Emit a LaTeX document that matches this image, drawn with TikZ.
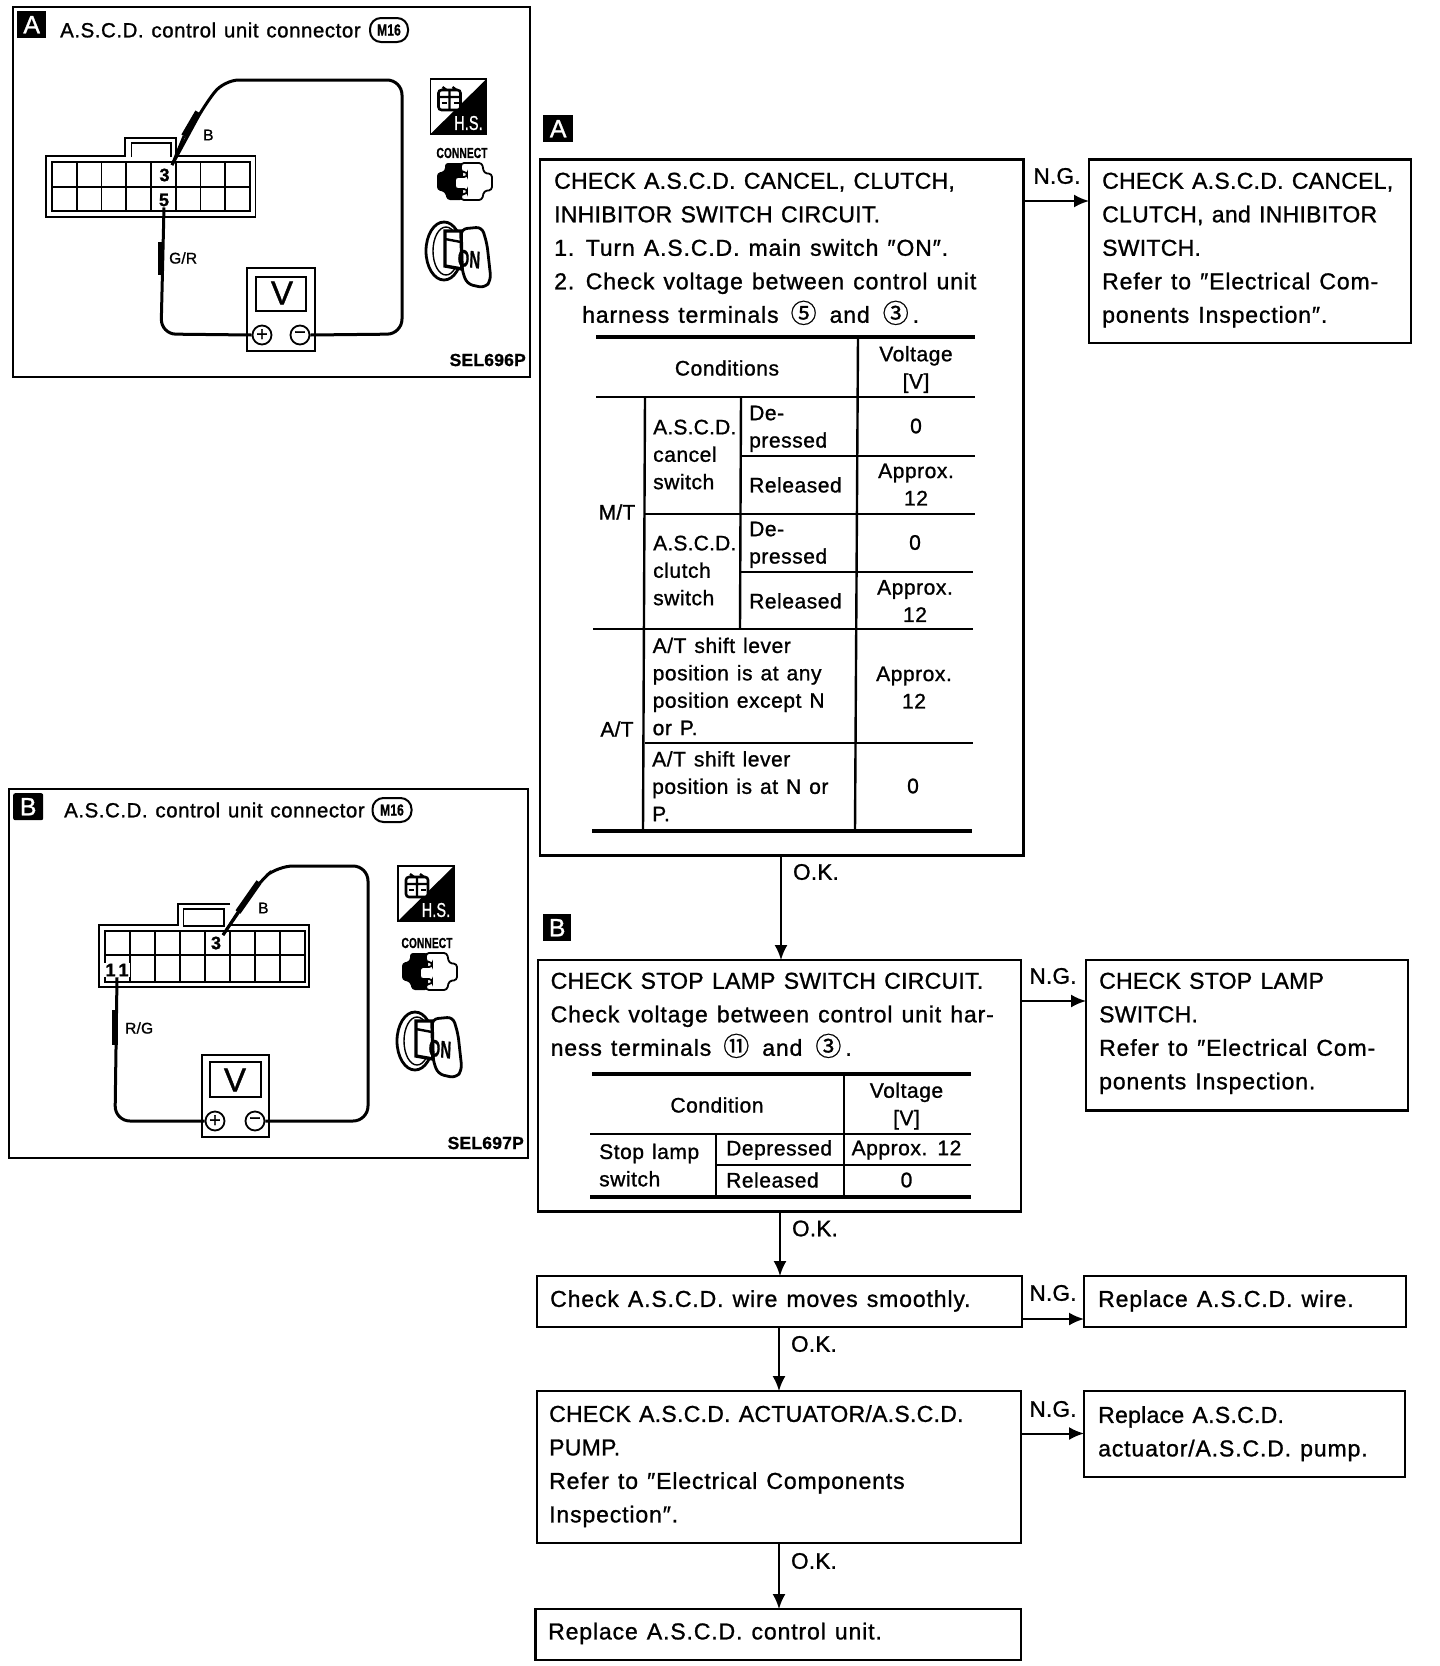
\documentclass[tikz,border=0pt]{standalone}
\usepackage{fontspec}
\setmainfont{Liberation Sans}[RawFeature={embolden=1.1},WordSpace=1.25,LetterSpace=1.2]
\newfontfamily\cjkf{Noto Sans CJK SC}[RawFeature={embolden=0.8}]
\usetikzlibrary{arrows.meta,calc}
\newcommand\fsBody{\fontsize{23}{33.5}\selectfont}
\newcommand\fsTab{\fontsize{21}{27.4}\selectfont\addfontfeature{LetterSpace=2.6}}
\newcommand\cn[1]{{\cjkf\fontsize{26}{26}\selectfont #1}}
\newcommand\lw[1]{{\addfontfeature{LetterSpace=3.8}#1}}
\newcommand\tgt[1]{{\addfontfeature{LetterSpace=1}#1}}
\tikzset{
  x=1pt,y=-1pt,
  box/.style={draw=black,line width=2.4pt,fill=white,rectangle,inner sep=0pt,outer sep=0pt,anchor=north west},
  panel/.style={box,line width=2pt},
  body/.style={inner sep=0pt,anchor=north west,align=left,font=\fsBody},
  ngok/.style={inner sep=0pt,font=\fontsize{22.5}{26}\selectfont},
  tl/.style={inner sep=0pt,anchor=north west,align=left,font=\fsTab},
  tc/.style={inner sep=0pt,align=center,font=\fsTab},
  arr/.style={line width=2pt,-{Latex[length=15pt,width=13pt]}},
  rthin/.style={line width=2.4pt},
  rthick/.style={line width=3.8pt},
  wire/.style={line width=3pt,rounded corners=15pt},
  probe/.style={line width=6pt},
  badge/.style={fill=black,text=white,inner sep=0pt,anchor=north west,font=\fontsize{25}{25}\selectfont},
  ttl/.style={inner sep=0pt,anchor=west,font=\fontsize{20.5}{24}\selectfont\addfontfeature{LetterSpace=2.6}},
  capsule/.style={draw,line width=2pt,rounded corners=11pt,inner sep=0pt},
  capt/.style={inner sep=0pt,xscale=.75,transform shape,font=\bfseries\fontsize{16}{16}\selectfont},
  wlab/.style={inner sep=0pt,anchor=west,font=\fontsize{15.5}{18}\selectfont},
  pinn/.style={inner sep=0pt,font=\bfseries\fontsize{18}{20}\selectfont},
  term/.style={draw,circle,line width=1.8pt,fill=white,minimum size=19pt,inner sep=0pt,font=\fontsize{20}{20}\selectfont},
  sel/.style={inner sep=0pt,anchor=east,font=\bfseries\fontsize{17.5}{20}\selectfont},
}
% icons: name prefix, x, y
\newcommand\hsicon[3]{\begin{scope}[shift={(#2,#3)}]
  \draw[line width=1.8pt] (0,0) rectangle (56,55);
  \fill (56,0) -- (56,55) -- (0,55) -- cycle;
  \draw[line width=2.6pt,fill=white,rounded corners=3pt] (8,11) rectangle (30,31);
  \draw[line width=2.4pt] (8,18) -- (30,18) (19,11) -- (19,31) (12,8) -- (16,11) (22,8) -- (26,11);
  \draw[line width=1.4pt] (11,24) -- (16,24) (23,24) -- (28,24);
  \node[inner sep=0pt,text=white,xscale=.72,transform shape,font=\fontsize{20}{20}\selectfont] (#1hs) at (38,44) {H.S.};
\end{scope}}
\newcommand\conicon[3]{\begin{scope}[shift={(#2,#3)}]
  \node[inner sep=0pt,xscale=.7,transform shape,font=\bfseries\fontsize{14.5}{15}\selectfont] (#1con) at (25,-10) {CONNECT};
  \fill[rounded corners=3pt] (8,0) -- (26,0) -- (26,37) -- (10,37) -- (8,29) -- (0,27) -- (0,10) -- (8,8) -- cycle;
  \draw[line width=1.8pt,fill=white,rounded corners=3pt] (24,0) -- (45,0) -- (47,10) -- (55,11) -- (55,27) -- (47,28) -- (45,37) -- (24,37) -- (24,31) -- (30,31) -- (30,26) -- (18,26) -- (18,14) -- (30,14) -- (30,9) -- (24,9) -- cycle;
\end{scope}}
\newcommand\keyicon[3]{\begin{scope}[shift={(#2,#3)}]
  \draw[line width=2.8pt] (19,29) ellipse [x radius=18,y radius=29];
  \draw[line width=1.4pt] (21,29) ellipse [x radius=13,y radius=24];
  \draw[line width=2.8pt,fill=white,rounded corners=6pt] (36,7) -- (57,5) -- (62,22) -- (66,58) -- (60,66) -- (42,62) -- (37,48) -- cycle;
  \draw[line width=3.4pt,fill=white] (20,9) -- (36,9) -- (37,47) -- (20,44) -- cycle;
  \draw[line width=2.4pt] (20,17) -- (36,20);
  \node[inner sep=0pt,xscale=.62,rotate=-4,transform shape,font=\bfseries\fontsize{24}{24}\selectfont] (#1on) at (44,37) {ON};
\end{scope}}
\begin{document}
\begin{tikzpicture}
\useasboundingbox (0,0) rectangle (1440,1666);
\fill[white] (0,0) rectangle (1440,1666);

%% ---------- Panel A
\node[panel,minimum width=517pt,minimum height=370pt] (panelA) at (13,7) {};
\node[badge,minimum width=29pt,minimum height=27pt] (badgeA) at (17,11) {A};
\node[ttl] (titleA) at (60,30) {A.S.C.D. control unit connector};
\node[capsule,minimum width=38pt,minimum height=24pt] (capA) at (389,30) {};
\node[capt] (capAt) at (capA) {M16};
% connector body
\draw[line width=1.8pt] (46,156) -- (125,156) -- (125,138) -- (176,138) -- (176,156) -- (255.5,156) -- (255.5,217) -- (46,217) -- cycle;
\draw[line width=1.8pt] (131.5,157) -- (131.5,143) -- (171,143) -- (171,157);
\draw[line width=2.2pt] (52,162) rectangle (250,211);
\draw[line width=2.2pt] (52,187) -- (250,187);
\foreach \c in {1,...,7}{\draw[line width=1.8pt] ({52+\c*24.75},162) -- ({52+\c*24.75},211);}
\node[pinn,fill=white,inner xsep=2pt,inner ysep=1pt] (pin3A) at (164.5,175) {3};
\node[pinn,fill=white,inner xsep=2pt,inner ysep=1pt] (pin5A) at (164,200) {5};
% meter
\node[box,line width=1.8pt,minimum width=68pt,minimum height=83pt] (meterA) at (247,268) {};
\node[box,line width=2pt,minimum width=50pt,minimum height=34pt] (screenA) at (256,277) {};
\node[inner sep=0pt,font=\fontsize{33}{33}\selectfont] (vA) at (282,293) {V};
\node[term] (plusA) at (262,335) {+};
\node[term] (minusA) at (300,335) {\textminus};
% wires
\coordinate (tipBA) at (172,165);
\draw[wire] (tipBA) -- (204,106) -- (224,80) -- (402,80) -- (402,334) -- (minusA.east);
\draw[probe] (184,136) -- (198,112);
\draw[line width=2.8pt] (tipBA) -- (184,136);
\draw[wire] (pin5A.south) -- (161,334) -- (plusA.west);
\draw[probe] (160.5,242) -- (160.5,275);
\node[wlab] (wireBA) at (203,135) {B};
\node[wlab] (wireGR) at (169,258) {G/R};
\node[sel] (selA) at (526,360) {SEL696P};
\hsicon{a}{430.5}{79}
\conicon{a}{437}{163}
\keyicon{a}{425}{222}

%% ---------- Panel B
\node[panel,minimum width=519pt,minimum height=369pt] (panelB) at (9,789) {};
\node[badge,minimum width=30pt,minimum height=27pt,rounded corners=2pt] (badgeB) at (13,793) {B};
\node[ttl] (titleB) at (64,810) {A.S.C.D. control unit connector};
\node[capsule,minimum width=39pt,minimum height=24pt] (capB) at (392,810) {};
\node[capt] (capBt) at (capB) {M16};
\draw[line width=1.8pt] (230,904) -- (178,904) -- (178,925) -- (99,925) -- (99,987) -- (309,987) -- (309,925) -- (230,925);
\draw[line width=1.8pt] (183.5,926) -- (183.5,909) -- (224,909) -- (224,926) -- cycle;
\draw[line width=2.2pt] (105,931) rectangle (305,982);
\draw[line width=2.2pt] (105,955) -- (305,955);
\foreach \c in {1,...,7}{\draw[line width=1.8pt] ({105+\c*25},931) -- ({105+\c*25},982);}
\node[pinn,fill=white,inner xsep=2pt,inner ysep=1pt] (pin3B) at (216,943) {3};
\node[pinn,fill=white,inner xsep=1pt,inner ysep=1pt] (pin11B) at (117,970) {1\,1};
\node[box,line width=1.8pt,minimum width=67pt,minimum height=82pt] (meterB) at (202,1055) {};
\node[box,line width=2pt,minimum width=51pt,minimum height=35pt] (screenB) at (210,1062) {};
\node[inner sep=0pt,font=\fontsize{33}{33}\selectfont] (vB) at (235,1080) {V};
\node[term] (plusB) at (215,1121) {+};
\node[term] (minusB) at (255,1121) {\textminus};
\coordinate (tipBB) at (223,935);
\draw[wire] (tipBB) -- (260,881) -- (278,866) -- (368,866) -- (368,1121) -- (minusB.east);
\draw[probe] (238,912) -- (259,882);
\draw[line width=2.8pt] (tipBB) -- (238,912);
\draw[wire] (pin11B.south) -- (115,1121) -- (plusB.west);
\draw[probe] (115,1010) -- (115,1045);
\node[wlab] (wireBB) at (258,908) {B};
\node[wlab] (wireRG) at (125,1028) {R/G};
\node[sel] (selB) at (524,1143) {SEL697P};
\hsicon{b}{398}{866}
\conicon{b}{402}{953}
\keyicon{b}{396}{1012}

%% ---------- Flow: step A
\node[badge,minimum width=30pt,minimum height=27pt] (flagA) at (543,115) {A};
\node[box,minimum width=483.5pt,minimum height=696pt] (mainA) at (540,159.5) {};
\node[box,minimum width=322pt,minimum height=183.5pt] (ngA) at (1089,159.5) {};
\node[body] (mainAtxt) at (554,172.5) {CHECK A.S.C.D. CANCEL, CLUTCH,\\INHIBITOR SWITCH CIRCUIT.\\\lw{1. Turn A.S.C.D. main switch ″ON″.}\\\lw{2. Check voltage between control unit}\\\hspace*{28pt}\lw{harness terminals}\hspace{12pt}\cn{⑤}\hspace{13pt}\lw{and}\hspace{13pt}\cn{③}\hspace{4pt}.};
\node[body] (ngAtxt) at (1102,172.5) {CHECK A.S.C.D. CANCEL,\\CLUTCH, and INHIBITOR\\SWITCH.\\\lw{Refer to ″Electrical Com-}\\\lw{ponents Inspection″.}};
\coordinate (rA) at (1040,201);
\draw[arr] (mainA.east |- rA) -- (ngA.west |- rA);
\node[ngok] (ngl1) at (1057,176) {N.G.};
% table A
\draw[rthick] (596,337) -- (975,337);
\draw[rthin] (596,397) -- (975,397);
\draw[rthick] (592,831) -- (972,831);
\draw[rthin] (741,456) -- (975,456);
\draw[rthin] (645,514) -- (975,514);
\draw[rthin] (741,572) -- (973,572);
\draw[rthin] (593,629) -- (973,629);
\draw[rthin] (645,743) -- (973,743);
\draw[rthin] (858,337) -- (855,831);
\draw[rthin] (645,397) -- (643,831);
\draw[rthin] (741,397) -- (740,629);
\node[tc] (tCond) at (727,368) {Conditions};
\node[tc] (tVolt) at (916,369.5) {Voltage\\{[V]}};
\node[tc] (tMT) at (617,512) {\tgt{M/T}};
\node[tc] (tAT) at (617,729) {\tgt{A/T}};
\node[tl] (t1) at (653,419.5) {\tgt{A.S.C.D.}\\cancel\\switch};
\node[tl] (t2) at (749,405.5) {De-\\pressed};
\node[tl] (t3) at (749,477) {Released};
\node[tc] (t4) at (916,426) {0};
\node[tc] (t5) at (916,484.5) {Approx.\\12};
\node[tl] (t6) at (653,535.5) {\tgt{A.S.C.D.}\\clutch\\switch};
\node[tl] (t7) at (749,521.5) {De-\\pressed};
\node[tl] (t8) at (749,593) {Released};
\node[tc] (t9) at (915,542.5) {0};
\node[tc] (t10) at (915,601) {Approx.\\12};
\node[tl] (t11) at (652.5,637.5) {A/T shift lever\\position is at any\\position except N\\or P.};
\node[tc] (t12) at (914,687.5) {Approx.\\12};
\node[tl] (t13) at (652,751) {A/T shift lever\\position is at N or\\P.};
\node[tc] (t14) at (913,786) {0};

%% ---------- Flow: step B
\coordinate (dA) at (781,900);
\node[badge,minimum width=28pt,minimum height=27pt] (flagB) at (543,914) {B};
\node[box,minimum width=483pt,minimum height=251.5pt] (mainB) at (538,960) {};
\node[box,minimum width=322pt,minimum height=150.5pt] (ngB) at (1086,960) {};
\draw[arr] (mainA.south -| dA) -- (mainB.north -| dA);
\node[ngok] (okl1) at (816,872) {O.K.};
\node[body] (mainBtxt) at (550.5,972.5) {CHECK STOP LAMP SWITCH CIRCUIT.\\\lw{Check voltage between control unit har-}\\\lw{ness terminals}\hspace{12pt}\cn{⑪}\hspace{13pt}\lw{and}\hspace{13pt}\cn{③}\hspace{4pt}.};
\node[body] (ngBtxt) at (1099,972.5) {CHECK STOP LAMP\\SWITCH.\\\lw{Refer to ″Electrical Com-}\\\lw{ponents Inspection.}};
\coordinate (rB) at (1040,1001);
\draw[arr] (mainB.east |- rB) -- (ngB.west |- rB);
\node[ngok] (ngl2) at (1053,976) {N.G.};
% table B
\draw[rthick] (592,1074) -- (971,1074);
\draw[rthin] (590,1134) -- (971,1134);
\draw[rthin] (717,1165) -- (971,1165);
\draw[rthick] (590,1197) -- (971,1197);
\draw[rthin] (844,1074) -- (844,1197);
\draw[rthin] (716,1134) -- (716,1197);
\node[tc] (b1) at (717,1105) {Condition};
\node[tc] (b2) at (906.5,1106) {Voltage\\{[V]}};
\node[tl] (b3) at (599,1143.5) {Stop lamp\\switch};
\node[tc,anchor=west] (b4) at (726,1150) {Depressed};
\node[tc,anchor=west] (b5) at (726,1180) {Released};
\node[tc] (b6) at (906.5,1150) {Approx. 12};
\node[tc] (b7) at (906.5,1180) {0};

%% ---------- Flow: wire
\coordinate (dB) at (780,1240);
\node[box,minimum width=485pt,minimum height=51pt] (wireBox) at (537,1276) {};
\node[box,minimum width=322pt,minimum height=51pt] (wireNg) at (1084,1276) {};
\draw[arr] (mainB.south -| dB) -- (wireBox.north -| dB);
\node[ngok] (okl2) at (815,1228.5) {O.K.};
\node[body] (wireTxt) at (550,1290) {\lw{Check A.S.C.D. wire moves smoothly.}};
\node[body] (wireNgTxt) at (1098,1290) {\lw{Replace A.S.C.D. wire.}};
\coordinate (rC) at (1040,1319);
\draw[arr] (wireBox.east |- rC) -- (wireNg.west |- rC);
\node[ngok] (ngl3) at (1053,1293) {N.G.};

%% ---------- Flow: actuator
\coordinate (dC) at (779,1350);
\node[box,minimum width=484pt,minimum height=152pt] (actBox) at (537,1391) {};
\node[box,minimum width=321pt,minimum height=86pt] (actNg) at (1084,1391) {};
\draw[arr] (wireBox.south -| dC) -- (actBox.north -| dC);
\node[ngok] (okl3) at (814,1344) {O.K.};
\node[body] (actTxt) at (549,1405) {CHECK A.S.C.D. ACTUATOR/A.S.C.D.\\PUMP.\\\lw{Refer to ″Electrical Components}\\\lw{Inspection″.}};
\node[body] (actNgTxt) at (1098,1406) {Replace A.S.C.D.\\\lw{actuator/A.S.C.D. pump.}};
\coordinate (rD) at (1040,1433.5);
\draw[arr] (actBox.east |- rD) -- (actNg.west |- rD);
\node[ngok] (ngl4) at (1053,1409) {N.G.};

%% ---------- Flow: last
\coordinate (dD) at (779,1570);
\node[box,minimum width=485.5pt,minimum height=51pt] (lastBox) at (535.5,1609) {};
\draw[arr] (actBox.south -| dD) -- (lastBox.north -| dD);
\node[ngok] (okl4) at (814,1561) {O.K.};
\node[body] (lastTxt) at (548,1622.5) {\lw{Replace A.S.C.D. control unit.}};
\end{tikzpicture}
\end{document}
